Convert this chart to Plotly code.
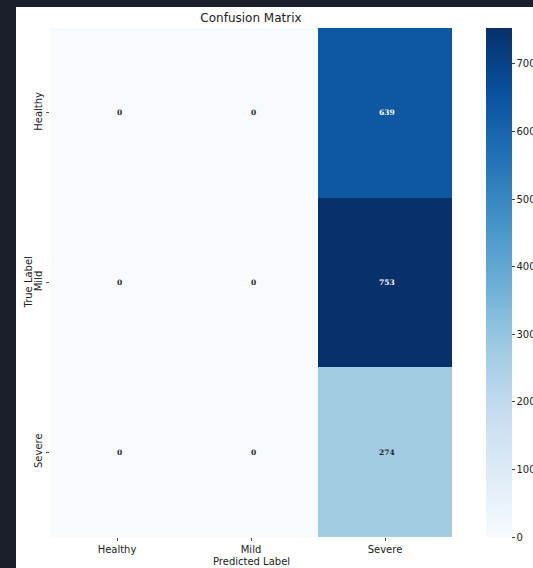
import plotly.graph_objects as go

classes = ["Healthy", "Mild", "Severe"]
pred_labels = ["Healthy", "Mild", "Severe"]
true_labels = ["Healthy", "Mild", "Severe"]
counts = [
    [0, 0, 639],
    [0, 0, 753],
    [0, 0, 274],
]
cbar_ticks = [0, 100, 200, 300, 400, 500, 600, 700]

blues = ["#f7fbff", "#deebf7", "#c6dbef", "#9ecae1", "#6baed6",
         "#4292c6", "#2171b5", "#08519c", "#08306b"]
colorscale = [[i / (len(blues) - 1), c] for i, c in enumerate(blues)]

zmax = max(max(r) for r in counts)

W, H = 533, 568
L, R, T, B = 50, 81, 28, 31
pw, ph = W - L - R, H - T - B

fig = go.Figure(go.Heatmap(
    z=counts, x=pred_labels, y=true_labels,
    colorscale=colorscale, zmin=0, zmax=zmax, xgap=0, ygap=0,
    colorbar=dict(
        x=(486 - L) / pw, xanchor="left", xref="paper",
        y=0.5, yanchor="middle", len=1, lenmode="fraction",
        thickness=26, thicknessmode="pixels", xpad=0, ypad=0,
        outlinewidth=0,
        tickvals=cbar_ticks, ticks="outside", ticklen=3, tickcolor="#444",
        tickfont=dict(family="DejaVu Sans", size=10, color="#222"),
    ),
    hoverinfo="skip",
))

for i, t in enumerate(true_labels):
    for j, p in enumerate(pred_labels):
        v = counts[i][j]
        fig.add_annotation(
            x=p, y=t, text=f"<b>{v}</b>", showarrow=False, xshift=2,
            font=dict(family="DejaVu Serif", size=7.5,
                      color="white" if v > zmax * 0.5 else "#262626"),
        )

# axis titles
fig.add_annotation(text="Predicted Label", xref="paper", yref="paper",
                   x=0.5, y=-(561 - (T + ph)) / ph, yanchor="middle",
                   showarrow=False, font=dict(family="DejaVu Sans", size=10, color="#222"))
fig.add_annotation(text="True Label", xref="paper", yref="paper",
                   x=(28 - L) / pw, y=0.5, xanchor="center", textangle=-90,
                   showarrow=False, font=dict(family="DejaVu Sans", size=10, color="#222"))

dark = "#1b1f2b"
fig.add_shape(type="rect", xref="paper", yref="paper",
              x0=-L / pw - 0.05, x1=(16 - L) / pw, y0=-B / ph - 0.05, y1=1 + T / ph + 0.05,
              fillcolor=dark, line_width=0, layer="above")
fig.add_shape(type="rect", xref="paper", yref="paper",
              x0=-L / pw - 0.05, x1=1 + R / pw + 0.05, y0=1 + (T - 7) / ph, y1=1 + T / ph + 0.05,
              fillcolor=dark, line_width=0, layer="above")

fig.update_layout(
    width=W, height=H,
    margin=dict(l=L, r=R, t=T, b=B, pad=0, autoexpand=False),
    paper_bgcolor="white", plot_bgcolor="white",
    font=dict(family="DejaVu Sans", size=10, color="#222"),
    title=dict(text="Confusion Matrix", x=(L + pw / 2) / W, xanchor="center",
               y=1 - 18 / H, yanchor="middle", yref="container",
               font=dict(family="DejaVu Sans", size=12, color="#222")),
    xaxis=dict(
        ticks="outside", ticklen=3, tickcolor="#555", showgrid=False,
        zeroline=False, showline=False, ticklabelstandoff=0,
        tickfont=dict(family="DejaVu Sans", size=10, color="#222"),
    ),
    yaxis=dict(
        autorange="reversed", tickangle=-90,
        ticks="outside", ticklen=3, tickcolor="#555", showgrid=False,
        zeroline=False, showline=False, ticklabelstandoff=0,
        tickfont=dict(family="DejaVu Sans", size=10, color="#222"),
    ),
)

fig.write_html("out.html")
